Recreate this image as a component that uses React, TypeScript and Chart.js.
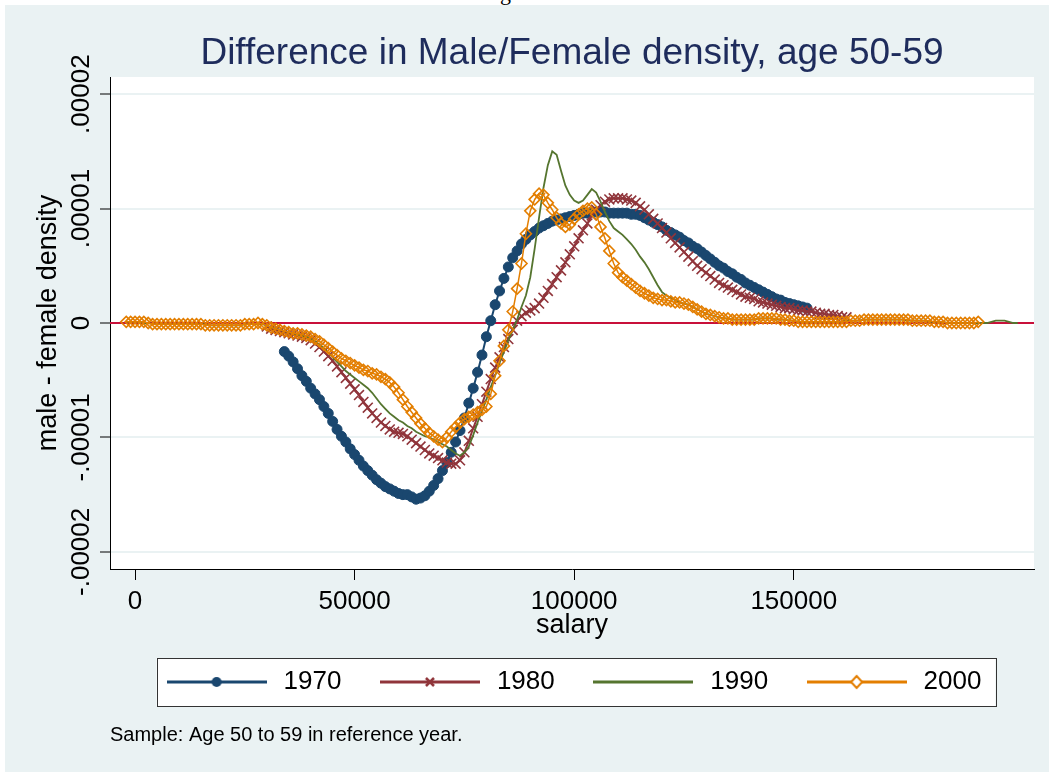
import React, { useEffect, useRef } from 'react';
import { Chart, registerables } from 'chart.js';

Chart.register(...registerables);

// ---------- data (density values in units of 1e-5) ----------
const salaryK = [
  -2, -1,
  0, 1, 2, 3, 4, 5, 6, 7, 8, 9,
  10, 11, 12, 13, 14, 15, 16, 17, 18, 19,
  20, 21, 22, 23, 24, 25, 26, 27, 28, 29,
  30, 31, 32, 33, 34, 35, 36, 37, 38, 39,
  40, 41, 42, 43, 44, 45, 46, 47, 48, 49,
  50, 51, 52, 53, 54, 55, 56, 57, 58, 59,
  60, 61, 62, 63, 64, 65, 66, 67, 68, 69,
  70, 71, 72, 73, 74, 75, 76, 77, 78, 79,
  80, 81, 82, 83, 84, 85, 86, 87, 88, 89,
  90, 91, 92, 93, 94, 95, 96, 97, 98, 99,
  100, 101, 102, 103, 104, 105, 106, 107, 108, 109,
  110, 111, 112, 113, 114, 115, 116, 117, 118, 119,
  120, 121, 122, 123, 124, 125, 126, 127, 128, 129,
  130, 131, 132, 133, 134, 135, 136, 137, 138, 139,
  140, 141, 142, 143, 144, 145, 146, 147, 148, 149,
  150, 151, 152, 153, 154, 155, 156, 157, 158, 159,
  160, 161, 162, 163, 164, 165, 166, 167, 168, 169,
  170, 171, 172, 173, 174, 175, 176, 177, 178, 179,
  180, 181, 182, 183, 184, 185, 186, 187, 188, 189,
  190, 191, 192, 193, 194, 195, 196, 197, 198, 199,
  200, 201,
];

const seriesLabels = ['1970', '1980', '1990', '2000'];

const start1970 = 34;
const density1970 = [
  -0.25, -0.29, -0.34, -0.40, -0.46, -0.51,
  -0.57, -0.62, -0.67, -0.73, -0.79, -0.86, -0.93, -0.99, -1.04, -1.10,
  -1.15, -1.20, -1.25, -1.29, -1.33, -1.37, -1.40, -1.43, -1.45, -1.47,
  -1.49, -1.50, -1.50, -1.52, -1.54, -1.53, -1.51, -1.47, -1.42, -1.36,
  -1.29, -1.22, -1.13, -1.04, -0.94, -0.83, -0.70, -0.57, -0.43, -0.28,
  -0.12, 0.02, 0.16, 0.28, 0.39, 0.49, 0.57, 0.63, 0.69, 0.73,
  0.77, 0.80, 0.83, 0.85, 0.87, 0.89, 0.90, 0.91, 0.92, 0.93,
  0.94, 0.95, 0.96, 0.96, 0.97, 0.97, 0.97, 0.97, 0.96, 0.96,
  0.96, 0.96, 0.96, 0.95, 0.95, 0.94, 0.92, 0.90, 0.88, 0.86,
  0.84, 0.81, 0.79, 0.77, 0.75, 0.72, 0.70, 0.67, 0.65, 0.62,
  0.59, 0.56, 0.53, 0.50, 0.48, 0.45, 0.43, 0.40, 0.38, 0.35,
  0.33, 0.31, 0.29, 0.27, 0.25, 0.23, 0.21, 0.20, 0.18, 0.17,
  0.16, 0.15, 0.14, 0.13,
];

const start1980 = 30;
const density1980 = [
  -0.03, -0.05, -0.06, -0.07, -0.08, -0.09, -0.10, -0.11, -0.12, -0.13,
  -0.15, -0.18, -0.21, -0.25, -0.29, -0.33, -0.38, -0.43, -0.48, -0.53,
  -0.58, -0.63, -0.69, -0.74, -0.79, -0.83, -0.87, -0.90, -0.93, -0.95,
  -0.96, -0.97, -0.99, -1.02, -1.05, -1.08, -1.11, -1.14, -1.16, -1.18,
  -1.20, -1.22, -1.23, -1.23, -1.20, -1.13, -1.03, -0.92, -0.82, -0.71,
  -0.60, -0.49, -0.39, -0.30, -0.21, -0.14, -0.06, 0.02, 0.06, 0.09,
  0.11, 0.13, 0.17, 0.22, 0.28, 0.34, 0.40, 0.46, 0.53, 0.60,
  0.67, 0.74, 0.81, 0.87, 0.94, 0.99, 1.03, 1.06, 1.08, 1.09,
  1.09, 1.09, 1.08, 1.07, 1.05, 1.02, 0.99, 0.95, 0.91, 0.87,
  0.83, 0.79, 0.74, 0.70, 0.66, 0.62, 0.58, 0.54, 0.50, 0.47,
  0.44, 0.41, 0.38, 0.35, 0.33, 0.31, 0.29, 0.27, 0.25, 0.23,
  0.22, 0.21, 0.19, 0.18, 0.17, 0.16, 0.15, 0.14, 0.13, 0.13,
  0.12, 0.11, 0.11, 0.10, 0.10, 0.09, 0.08, 0.08, 0.07, 0.07,
  0.06, 0.05, 0.05,
];

const start1990 = -2;
const density1990 = [
  0.01, 0.01,
  0.01, 0.01, 0.00, 0.00, -0.01, -0.01, -0.01, -0.01, -0.01, -0.01,
  -0.01, -0.01, -0.01, -0.01, -0.01, -0.01, -0.01, -0.02, -0.02, -0.02,
  -0.02, -0.02, -0.02, -0.02, -0.02, -0.01, -0.01, -0.01, -0.01, -0.01,
  -0.02, -0.04, -0.05, -0.06, -0.07, -0.08, -0.09, -0.10, -0.11, -0.12,
  -0.14, -0.16, -0.19, -0.22, -0.26, -0.30, -0.34, -0.38, -0.42, -0.45,
  -0.48, -0.51, -0.54, -0.57, -0.61, -0.66, -0.71, -0.75, -0.79, -0.82,
  -0.85, -0.87, -0.90, -0.92, -0.95, -0.97, -0.99, -1.00, -1.02, -1.04,
  -1.06, -1.08, -1.11, -1.14, -1.16, -1.13, -1.08, -0.98, -0.87, -0.77,
  -0.67, -0.56, -0.46, -0.35, -0.25, -0.15, -0.06, 0.03, 0.14, 0.24,
  0.40, 0.65, 0.92, 1.18, 1.38, 1.50, 1.47, 1.33, 1.20, 1.12,
  1.07, 1.05, 1.07, 1.12, 1.17, 1.14, 1.06, 0.97, 0.89, 0.83,
  0.80, 0.77, 0.73, 0.69, 0.64, 0.58, 0.53, 0.47, 0.40, 0.33,
  0.27, 0.24, 0.22, 0.20, 0.18, 0.17, 0.16, 0.14, 0.12, 0.10,
  0.08, 0.07, 0.06, 0.05, 0.04, 0.04, 0.03, 0.03, 0.03, 0.03,
  0.03, 0.03, 0.04, 0.04, 0.04, 0.04, 0.03, 0.03, 0.03, 0.02,
  0.02, 0.01, 0.01, 0.01, 0.01, 0.01, 0.01, 0.01, 0.01, 0.01,
  0.01, 0.01, 0.02, 0.02, 0.02, 0.02, 0.03, 0.03, 0.03, 0.03,
  0.03, 0.03, 0.03, 0.03, 0.03, 0.03, 0.02, 0.02, 0.02, 0.02,
  0.02, 0.01, 0.01, 0.01, 0.01, 0.00, 0.00, 0.00, 0.00, 0.00,
  0.00, 0.00, 0.00, 0.00, 0.00, 0.01, 0.02, 0.02, 0.02, 0.01,
  0.00, 0.00,
];

const start2000 = -2;
const density2000 = [
  0.01, 0.01,
  0.01, 0.01, 0.01, 0.00, -0.01, -0.01, -0.01, -0.01, -0.01, -0.01,
  -0.01, -0.01, -0.01, -0.01, -0.01, -0.01, -0.02, -0.02, -0.02, -0.02,
  -0.02, -0.02, -0.02, -0.02, -0.02, -0.01, -0.01, -0.01, 0.00, -0.01,
  -0.02, -0.04, -0.05, -0.06, -0.07, -0.08, -0.09, -0.09, -0.10, -0.11,
  -0.12, -0.14, -0.16, -0.19, -0.22, -0.25, -0.28, -0.31, -0.33, -0.35,
  -0.37, -0.39, -0.41, -0.42, -0.44, -0.45, -0.47, -0.49, -0.52, -0.56,
  -0.61, -0.67, -0.73, -0.78, -0.83, -0.88, -0.92, -0.96, -0.99, -1.02,
  -1.04, -1.00, -0.95, -0.91, -0.87, -0.84, -0.82, -0.80, -0.78, -0.76,
  -0.73, -0.62, -0.46, -0.33, -0.20, -0.06, 0.10, 0.30, 0.52, 0.78,
  0.98, 1.08, 1.13, 1.12, 1.05, 0.99, 0.92, 0.87, 0.84, 0.86,
  0.91, 0.95, 0.98, 1.00, 1.01, 0.95, 0.84, 0.74, 0.63, 0.52,
  0.44, 0.40, 0.37, 0.34, 0.31, 0.28, 0.26, 0.24, 0.22, 0.21,
  0.20, 0.20, 0.19, 0.18, 0.18, 0.17, 0.16, 0.14, 0.12, 0.10,
  0.08, 0.07, 0.06, 0.05, 0.04, 0.04, 0.03, 0.03, 0.03, 0.03,
  0.03, 0.03, 0.04, 0.04, 0.04, 0.04, 0.04, 0.03, 0.03, 0.02,
  0.02, 0.01, 0.01, 0.01, 0.01, 0.01, 0.01, 0.01, 0.01, 0.01,
  0.01, 0.01, 0.01, 0.02, 0.02, 0.02, 0.03, 0.03, 0.03, 0.03,
  0.03, 0.03, 0.03, 0.03, 0.03, 0.03, 0.03, 0.02, 0.02, 0.02,
  0.02, 0.02, 0.01, 0.01, 0.01, 0.00, 0.00, 0.00, 0.00, 0.00,
  0.00, 0.00, 0.01,
];

const xMin = -5700;
const xMax = 204700;
const xTicks = [0, 50000, 100000, 150000];
const xTickLabels = ['0', '50000', '100000', '150000'];
const yMin = -2.15;
const yMax = 2.15;
const yTicks = [-2, -1, 0, 1, 2];
const yTickLabels = ['-.00002', '-.00001', '0', '.00001', '.00002'];

// ---------- styling ----------
const FONT = '"Liberation Sans", Arial, sans-serif';
const NAVY = '#1a476f';
const MAROON = '#90353b';
const GREEN = '#55752f';
const ORANGE = '#e37e00';
const ZERO = '#c8103a';
const BG = '#eaf2f3';

function toPoints(startK: number, vals: number[]) {
  const i0 = salaryK.indexOf(startK);
  return vals.map((y, i) => ({ x: salaryK[i0 + i] * 1000, y }));
}

function makeLegendImg(color: string, marker: string) {
  const c = document.createElement('canvas');
  c.width = 100;
  c.height = 16;
  const g = c.getContext('2d') as CanvasRenderingContext2D;
  g.strokeStyle = color;
  g.lineWidth = 3;
  g.beginPath();
  g.moveTo(0, 8);
  g.lineTo(100, 8);
  g.stroke();
  if (marker === 'circle') {
    g.fillStyle = color;
    g.beginPath();
    g.arc(50, 8, 5, 0, Math.PI * 2);
    g.fill();
  } else if (marker === 'x') {
    g.lineWidth = 2.5;
    g.beginPath();
    g.moveTo(46, 4);
    g.lineTo(54, 12);
    g.moveTo(54, 4);
    g.lineTo(46, 12);
    g.stroke();
  } else if (marker === 'diamond') {
    g.fillStyle = '#ffffff';
    g.lineWidth = 2;
    g.beginPath();
    g.moveTo(50, 2);
    g.lineTo(55.5, 8);
    g.lineTo(50, 14);
    g.lineTo(44.5, 8);
    g.closePath();
    g.fill();
    g.stroke();
  }
  return c;
}

const backgroundPlugin = {
  id: 'stataBackground',
  beforeDraw(chart: any) {
    const { ctx, chartArea: a } = chart;
    ctx.save();
    ctx.fillStyle = '#ffffff';
    ctx.fillRect(a.left, a.top, a.right - a.left, a.bottom - a.top);
    const lg = chart.legend;
    if (lg && lg.legendHitBoxes && lg.legendHitBoxes.length) {
      const hb = lg.legendHitBoxes;
      const l = Math.min(...hb.map((h: any) => h.left)) - 6;
      const r = Math.max(...hb.map((h: any) => h.left + h.width)) + 14;
      const cy = hb[0].top + hb[0].height / 2;
      ctx.fillStyle = '#ffffff';
      ctx.fillRect(l, cy - 24, r - l, 48);
      ctx.strokeStyle = '#333333';
      ctx.lineWidth = 1;
      ctx.strokeRect(Math.round(l) + 0.5, Math.round(cy - 24) + 0.5, Math.round(r - l), 48);
    }
    ctx.restore();
  },
};

export default function App() {
  const ref = useRef<HTMLCanvasElement>(null);

  useEffect(() => {
    const canvas = ref.current as HTMLCanvasElement;
    Chart.defaults.font.family = FONT;
    Chart.defaults.color = '#000000';
    const legendImgs = [
      makeLegendImg(NAVY, 'circle'),
      makeLegendImg(MAROON, 'x'),
      makeLegendImg(GREEN, 'none'),
      makeLegendImg(ORANGE, 'diamond'),
    ];

    const chart = new Chart(canvas, {
      type: 'line',
      data: {
        datasets: [
          {
            label: seriesLabels[0],
            data: toPoints(start1970, density1970),
            borderColor: NAVY,
            backgroundColor: NAVY,
            borderWidth: 2,
            pointStyle: 'circle',
            pointRadius: 5,
            pointBorderWidth: 1,
            pointBackgroundColor: NAVY,
            pointBorderColor: NAVY,
            order: 4,
          },
          {
            label: seriesLabels[1],
            data: toPoints(start1980, density1980),
            borderColor: MAROON,
            backgroundColor: MAROON,
            borderWidth: 2,
            pointStyle: 'crossRot',
            pointRadius: 7,
            pointBorderWidth: 1.6,
            pointBorderColor: MAROON,
            order: 3,
          },
          {
            label: seriesLabels[2],
            data: toPoints(start1990, density1990),
            borderColor: GREEN,
            backgroundColor: GREEN,
            borderWidth: 1.8,
            pointRadius: 0,
            order: 2,
          },
          {
            label: seriesLabels[3],
            data: toPoints(start2000, density2000),
            borderColor: ORANGE,
            backgroundColor: ORANGE,
            borderWidth: 1.5,
            pointStyle: 'rectRot',
            pointRadius: 5.5,
            pointBorderWidth: 1.6,
            pointBorderColor: ORANGE,
            pointBackgroundColor: 'rgba(0,0,0,0)',
            order: 1,
          },
          {
            label: 'zero',
            data: [
              { x: xMin, y: 0 },
              { x: xMax, y: 0 },
            ],
            borderColor: ZERO,
            borderWidth: 2,
            pointRadius: 0,
            order: 5,
          },
        ],
      },
      options: {
        responsive: false,
        animation: false,
        devicePixelRatio: 1,
        events: [],
        layout: { padding: { left: 0, right: 15, top: 0, bottom: 0 } },
        scales: {
          x: {
            type: 'linear',
            min: xMin,
            max: xMax,
            afterBuildTicks: (s: any) => {
              s.ticks = xTicks.map((v) => ({ value: v }));
            },
            afterFit: (s: any) => {
              s.height = 65.5;
            },
            ticks: {
              autoSkip: false,
              maxRotation: 0,
              padding: 6,
              color: '#000000',
              font: { size: 26 },
              callback: (v: any) => {
                const i = xTicks.indexOf(Number(v));
                return i >= 0 ? xTickLabels[i] : '';
              },
            },
            grid: {
              drawOnChartArea: false,
              drawTicks: true,
              tickLength: 11,
              tickColor: '#000000',
              tickWidth: 1,
            },
            border: { color: '#000000', width: 1 },
            title: {
              display: true,
              text: 'salary',
              color: '#000000',
              font: { size: 27, lineHeight: 1 },
              padding: { top: 0, bottom: -4.5 },
            },
          },
          y: {
            type: 'linear',
            min: yMin,
            max: yMax,
            afterBuildTicks: (s: any) => {
              s.ticks = yTicks.map((v) => ({ value: v }));
            },
            afterFit: (s: any) => {
              s.width = 105;
            },
            ticks: {
              autoSkip: false,
              minRotation: 90,
              maxRotation: 90,
              crossAlign: 'center',
              padding: -26,
              color: '#000000',
              font: { size: 26 },
              callback: (v: any) => {
                const i = yTicks.indexOf(Number(v));
                return i >= 0 ? yTickLabels[i] : '';
              },
            },
            grid: {
              color: BG,
              lineWidth: 2,
              drawTicks: true,
              tickLength: 10,
              tickColor: '#000000',
              tickWidth: 1,
            },
            border: { color: '#000000', width: 1 },
            title: {
              display: true,
              text: 'male - female density',
              color: '#000000',
              font: { size: 27, lineHeight: 1 },
              padding: { top: 30, bottom: 0 },
            },
          },
        },
        plugins: {
          tooltip: { enabled: false },
          title: {
            display: true,
            text: 'Difference in Male/Female density, age 50-59',
            color: '#1e2c5c',
            fullSize: false,
            font: { size: 37, weight: 'normal', lineHeight: 1.2 },
            padding: { top: 26.5, bottom: 1.1 },
          },
          subtitle: {
            display: true,
            text: 'Sample: Age 50 to 59 in reference year.',
            position: 'bottom',
            align: 'start',
            fullSize: false,
            color: '#000000',
            font: { size: 20, weight: 'normal', lineHeight: 1.2 },
            padding: { top: 18, bottom: 25 },
          },
          legend: {
            display: true,
            position: 'bottom',
            align: 'center',
            fullSize: false,
            labels: {
              usePointStyle: true,
              pointStyleWidth: 108,
              padding: 34.5,
              color: '#000000',
              font: { size: 26 },
              filter: (item: any) => item.datasetIndex < 4,
              sort: (a: any, b: any) => a.datasetIndex - b.datasetIndex,
              generateLabels: (ch: any) => {
                const base = (Chart.defaults.plugins.legend.labels as any).generateLabels(ch);
                return base
                  .filter((it: any) => it.datasetIndex < 4)
                  .sort((a: any, b: any) => a.datasetIndex - b.datasetIndex)
                  .map((it: any) => ({ ...it, pointStyle: legendImgs[it.datasetIndex], fontColor: '#000000' }));
              },
            },
          },
        },
      } as any,
      plugins: [backgroundPlugin],
    });

    return () => chart.destroy();
  }, []);

  return (
    <>
      <div
        style={{
          position: 'absolute',
          left: 0,
          top: 0,
          width: 1049,
          height: 5,
          background: '#ffffff',
          overflow: 'hidden',
        }}
      >
        <span
          style={{
            position: 'absolute',
            left: 500,
            top: -20,
            font: '22px "Liberation Serif", serif',
            lineHeight: '25px',
            color: '#000000',
          }}
        >
          g
        </span>
      </div>
      <div
        style={{
          position: 'absolute',
          left: 5,
          top: 5,
          width: 1044,
          height: 767,
          background: BG,
        }}
      >
        <canvas ref={ref} width={1044} height={767} style={{ display: 'block', width: 1044, height: 767 }} />
      </div>
    </>
  );
}
